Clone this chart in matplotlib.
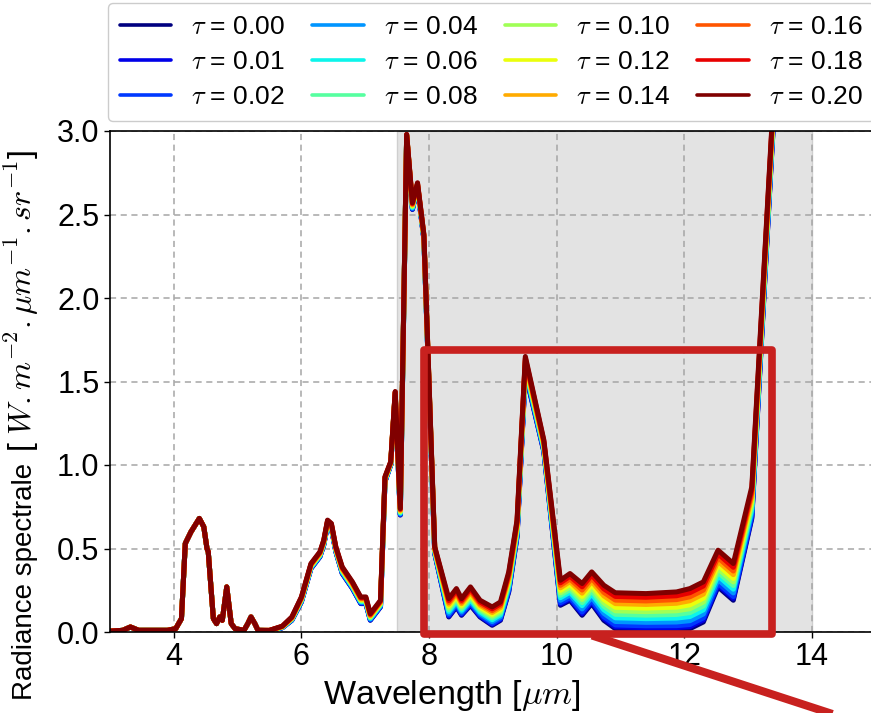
import matplotlib
matplotlib.use("Agg")
import matplotlib.pyplot as plt
import numpy as np
from matplotlib.patches import Rectangle
from matplotlib.lines import Line2D

plt.rcParams["font.family"] = ["Liberation Sans", "DejaVu Sans"]
plt.rcParams["mathtext.fontset"] = "cm"

# Spectral grid [um]
wavelength = [3.00, 3.20, 3.32, 3.45, 3.90, 4.03, 4.12, 4.18, 4.27, 4.40,
              4.47, 4.52, 4.54, 4.62, 4.67, 4.72, 4.76, 4.83, 4.90, 4.96,
              5.10, 5.16, 5.21, 5.27, 5.32, 5.50, 5.70, 5.85, 6.00, 6.15,
              6.29, 6.35, 6.41, 6.47, 6.54, 6.64, 6.80, 6.93, 7.01, 7.08,
              7.24, 7.31, 7.40, 7.47, 7.55, 7.65, 7.74, 7.82, 7.92, 8.09,
              8.31, 8.43, 8.51, 8.65, 8.80, 8.99, 9.12, 9.25, 9.38, 9.51,
              9.80, 10.06, 10.21, 10.40, 10.55, 10.74, 10.92, 11.40, 11.88, 12.09,
              12.30, 12.53, 12.77, 13.06, 13.37, 13.60, 14.00]

# Radiance for a clear atmosphere (tau = 0.00)
radiance_clear = [0.005, 0.010, 0.030, 0.010, 0.010, 0.020, 0.080, 0.530, 0.600, 0.680,
                  0.630, 0.500, 0.480, 0.080, 0.050, 0.090, 0.070, 0.270, 0.050, 0.020,
                  0.010, 0.050, 0.090, 0.050, 0.010, 0.008, 0.025, 0.070, 0.180, 0.380,
                  0.450, 0.520, 0.640, 0.620, 0.480, 0.350, 0.260, 0.170, 0.170, 0.070,
                  0.150, 0.900, 1.000, 1.420, 0.700, 2.970, 2.530, 2.660, 2.350, 0.470,
                  0.090, 0.150, 0.100, 0.160, 0.090, 0.040, 0.070, 0.240, 0.570, 1.550,
                  1.080, 0.160, 0.190, 0.100, 0.170, 0.070, 0.020, 0.015, 0.015, 0.020,
                  0.060, 0.270, 0.190, 0.680, 2.850, 4.400, 6.000]

# Radiance for the most turbid case (tau = 0.20)
radiance_turbid = [0.005, 0.010, 0.030, 0.010, 0.010, 0.020, 0.080, 0.530, 0.600, 0.680,
                   0.630, 0.500, 0.480, 0.080, 0.050, 0.090, 0.070, 0.270, 0.050, 0.020,
                   0.010, 0.050, 0.090, 0.050, 0.010, 0.010, 0.035, 0.090, 0.210, 0.410,
                   0.480, 0.550, 0.670, 0.650, 0.510, 0.390, 0.300, 0.210, 0.210, 0.110,
                   0.190, 0.930, 1.020, 1.440, 0.740, 2.980, 2.570, 2.690, 2.380, 0.510,
                   0.200, 0.260, 0.200, 0.270, 0.190, 0.150, 0.180, 0.360, 0.670, 1.650,
                   1.150, 0.310, 0.350, 0.290, 0.360, 0.280, 0.235, 0.230, 0.240, 0.260,
                   0.300, 0.490, 0.410, 0.870, 3.000, 4.500, 6.100]

# Aerosol optical depths and the radiance level each one reaches at 11.4 um
tau_values = [0.00, 0.01, 0.02, 0.04, 0.06, 0.08, 0.10, 0.12, 0.14, 0.16, 0.18, 0.20]
window_level = [0.015, 0.026, 0.037, 0.058, 0.080, 0.101, 0.122, 0.143, 0.165, 0.186, 0.208, 0.230]

xticks = [4, 6, 8, 10, 12, 14]
yticks = [0.0, 0.5, 1.0, 1.5, 2.0, 2.5, 3.0]

W, H = 871, 713
fig = plt.figure(figsize=(W / 100, H / 100), dpi=100)
ax = fig.add_axes([110 / W, (H - 632) / H, 765.6 / W, 501 / H])

wl = np.array(wavelength)
lo = np.array(radiance_clear)
hi = np.array(radiance_turbid)
lev = np.array(window_level)
frac = (lev - lev[0]) / (lev[-1] - lev[0])

cmap = plt.get_cmap("jet")
colors = [cmap(i / (len(tau_values) - 1)) for i in range(len(tau_values))]

for i, tau in enumerate(tau_values):
    ax.plot(wl, lo + frac[i] * (hi - lo), color=colors[i], lw=3.6,
            solid_joinstyle="round", solid_capstyle="round",
            label=r"$\tau$ = %.2f" % tau, zorder=2 + i * 0.01)

# atmospheric window shading
ax.axvspan(7.5, 14.0, facecolor="#e3e3e3", edgecolor="#cfcfcf", lw=1, zorder=0.2)

ax.set_xlim(3, 15)
ax.set_ylim(0, 3.0)
ax.set_xticks(xticks)
ax.set_yticks(yticks)
ax.set_yticklabels(["%.1f" % v for v in yticks])
ax.tick_params(labelsize=22, length=4, width=1)
ax.set_axisbelow(True)
ax.grid(True, ls=(0, (4, 3)), color="#a5a5a5", lw=1.1, zorder=0.5)
for s in ax.spines.values():
    s.set_linewidth(1.2)
    s.set_color("black")

ax.set_xlabel(r"Wavelength [$\mu m$]", fontsize=24.5)
ax.xaxis.set_label_coords((452 - 110) / 765.6, (632 - 678) / 501)

# y label: name, then the unit in brackets
ax.set_ylabel("Radiance spectrale", fontsize=20, ha="left", va="baseline",
              rotation_mode="anchor")
ax.yaxis.set_label_coords((32 - 110) / 765.6, (632 - 700) / 501)
ax.text((32 - 110) / 765.6, (632 - 452) / 501,
        r"[ $W.m^{-2}.\mu m^{-1}.sr^{-1}$]", transform=ax.transAxes,
        fontsize=23, rotation=90, rotation_mode="anchor", ha="left",
        va="baseline", clip_on=False)

# highlight box around the 8-13 um window
box_red = "#c8211f"
ax.add_patch(Rectangle((7.92, -0.01), 13.37 - 7.92, 1.70, fill=False,
                       edgecolor=box_red, lw=5.5, joinstyle="round",
                       clip_on=False, zorder=10))
fig.add_artist(Line2D([592 / W, 860 / W], [1 - 635.5 / H, 1 - 723 / H],
                      transform=fig.transFigure, color=box_red, lw=5.8,
                      solid_capstyle="butt", clip_on=False, zorder=10))

leg = fig.legend(loc="upper left", bbox_to_anchor=(108 / W, 1 - 3 / H), ncol=4,
                 fontsize=19, frameon=True, fancybox=True, framealpha=1,
                 edgecolor="#cccccc", handlelength=1.95, handletextpad=0.76,
                 columnspacing=1.02, labelspacing=0.42, borderpad=0.45,
                 borderaxespad=0)
for h in leg.get_lines():
    h.set_linewidth(2.6)

fig.savefig("out.png", dpi=100)
